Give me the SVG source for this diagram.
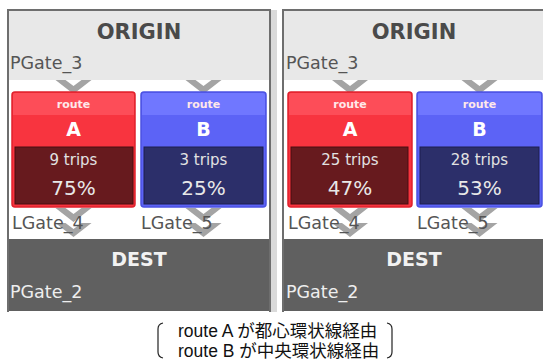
<svg xmlns="http://www.w3.org/2000/svg" width="543" height="361" viewBox="0 0 543 361">
<style>
.top{fill:#e8e8e8}
.mid{fill:#ffffff}
.bot{fill:#606060}
.frame{fill:none;stroke:#6e6e6e;stroke-width:2}
.title{font-family:"DejaVu Sans",sans-serif;font-weight:bold;font-size:21px;text-anchor:middle;fill:#4a4a4a}
.dtitle{font-family:"DejaVu Sans",sans-serif;font-weight:bold;font-size:19px;text-anchor:middle;fill:#f2f2f2}
.gate{font-family:"DejaVu Sans",sans-serif;font-size:17.5px;fill:#555555}
.gatew{font-family:"DejaVu Sans",sans-serif;font-size:17.5px;fill:#eeeeee}
.rt{font-family:"DejaVu Sans",sans-serif;font-weight:bold;font-size:11px;text-anchor:middle;fill:#ffe8ea}
.letter{font-family:"DejaVu Sans",sans-serif;font-weight:bold;font-size:19px;text-anchor:middle;fill:#ffffff}
.trips{font-family:"DejaVu Sans",sans-serif;font-size:15px;text-anchor:middle;fill:#e2e2e2}
.pct{font-family:"DejaVu Sans",sans-serif;font-size:20px;text-anchor:middle;fill:#e8e8e8}
.redbody{fill:#f8343f;stroke:#e0202c;stroke-width:1.5}
.redhead{fill:#fd4d58}
.redin{fill:#671a1e;stroke:#4a0d10;stroke-width:1}
.bluebody{fill:#5c63f6;stroke:#4b52e2;stroke-width:1.5}
.bluehead{fill:#7077ff}
.bluein{fill:#2c2f6a;stroke:#1c1f4e;stroke-width:1}
.chev{fill:#a4a4a4}
.legend{font-family:"Liberation Sans","Noto Sans CJK JP",sans-serif;font-size:17.5px;fill:#111111}
.brk{fill:none;stroke:#222;stroke-width:1.2}
</style>
<defs>
<path id="chev" d="M-18,0 L-8,0 L0,6 L8,0 L18,0 L0,14 Z"/>
</defs>

<!-- panel backgrounds -->
<g id="panel-left">
<rect x="8" y="10" width="262" height="70" class="top"/>
<rect x="8" y="80" width="262" height="159" class="mid"/>
<rect x="8" y="239" width="262" height="72" class="bot"/>
<rect x="271" y="10" width="6" height="302" fill="#dadada"/>
<path d="M8,312 L8,10 L270,10 L270,312" class="frame"/>
</g>
<g id="panel-right">
<rect x="283" y="10" width="260" height="70" class="top"/>
<rect x="283" y="80" width="260" height="159" class="mid"/>
<rect x="283" y="239" width="260" height="72" class="bot"/>
<path d="M283,312 L283,10 L543,10" class="frame"/>
</g>

<g id="connectors">
<use href="#chev" x="73.5" y="80" class="chev"/>
<use href="#chev" x="203.5" y="80" class="chev"/>
<use href="#chev" x="73.5" y="208" class="chev"/>
<use href="#chev" x="73.5" y="223" class="chev"/>
<use href="#chev" x="203.5" y="208" class="chev"/>
<use href="#chev" x="203.5" y="223" class="chev"/>
<use href="#chev" x="350" y="80" class="chev"/>
<use href="#chev" x="479.5" y="80" class="chev"/>
<use href="#chev" x="350" y="208" class="chev"/>
<use href="#chev" x="350" y="223" class="chev"/>
<use href="#chev" x="479.5" y="208" class="chev"/>
<use href="#chev" x="479.5" y="223" class="chev"/>
</g>

<g id="origin-left">
<text x="139" y="39" class="title">ORIGIN</text>
<text x="10" y="69" class="gate">PGate_3</text>
</g>

<g id="routeA-left">
<rect x="12" y="92" width="123" height="115" rx="3" class="redbody"/>
<path d="M13,115 L13,95 Q13,93 15,93 L132,93 Q134,93 134,95 L134,115 Z" class="redhead"/>
<text x="73.5" y="108" class="rt">route</text>
<text x="73.5" y="136" class="letter">A</text>
<rect x="15" y="147" width="118" height="57" class="redin"/>
<text x="73.5" y="165" class="trips">9 trips</text>
<text x="73.5" y="195" class="pct">75%</text>
</g>

<g id="routeB-left">
<rect x="141" y="92" width="125" height="115" rx="3" class="bluebody"/>
<path d="M142,115 L142,95 Q142,93 144,93 L263,93 Q265,93 265,95 L265,115 Z" class="bluehead"/>
<text x="203.5" y="108" class="rt">route</text>
<text x="203.5" y="136" class="letter">B</text>
<rect x="144" y="147" width="119" height="57" class="bluein"/>
<text x="203.5" y="165" class="trips">3 trips</text>
<text x="203.5" y="195" class="pct">25%</text>
</g>

<g id="gates-left">
<text x="12" y="229" class="gate">LGate_4</text>
<text x="141" y="229" class="gate">LGate_5</text>
</g>

<g id="dest-left">
<text x="139" y="266" class="dtitle">DEST</text>
<text x="10" y="298" class="gatew">PGate_2</text>
</g>

<g id="origin-right">
<text x="414" y="39" class="title">ORIGIN</text>
<text x="286" y="69" class="gate">PGate_3</text>
</g>

<g id="routeA-right">
<rect x="288" y="92" width="124" height="115" rx="3" class="redbody"/>
<path d="M289,115 L289,95 Q289,93 291,93 L409,93 Q411,93 411,95 L411,115 Z" class="redhead"/>
<text x="350" y="108" class="rt">route</text>
<text x="350" y="136" class="letter">A</text>
<rect x="291" y="147" width="117" height="57" class="redin"/>
<text x="350" y="165" class="trips">25 trips</text>
<text x="350" y="195" class="pct">47%</text>
</g>

<g id="routeB-right">
<rect x="417" y="92" width="125" height="115" rx="3" class="bluebody"/>
<path d="M418,115 L418,95 Q418,93 420,93 L539,93 Q541,93 541,95 L541,115 Z" class="bluehead"/>
<text x="479.5" y="108" class="rt">route</text>
<text x="479.5" y="136" class="letter">B</text>
<rect x="420" y="147" width="119" height="57" class="bluein"/>
<text x="479.5" y="165" class="trips">28 trips</text>
<text x="479.5" y="195" class="pct">53%</text>
</g>

<g id="gates-right">
<text x="288" y="229" class="gate">LGate_4</text>
<text x="417" y="229" class="gate">LGate_5</text>
</g>

<g id="dest-right">
<text x="414" y="266" class="dtitle">DEST</text>
<text x="286" y="298" class="gatew">PGate_2</text>
</g>

<!-- legend -->
<g id="legend">
<path d="M163,323 Q158,324 158,329 L158,352 Q158,357 163,358" class="brk"/>
<path d="M387,323 Q392,324 392,329 L392,352 Q392,357 387,358" class="brk"/>
<text x="178" y="337" class="legend">route A が都心環状線経由</text>
<text x="178" y="357" class="legend">route B が中央環状線経由</text>
</g>
</svg>
